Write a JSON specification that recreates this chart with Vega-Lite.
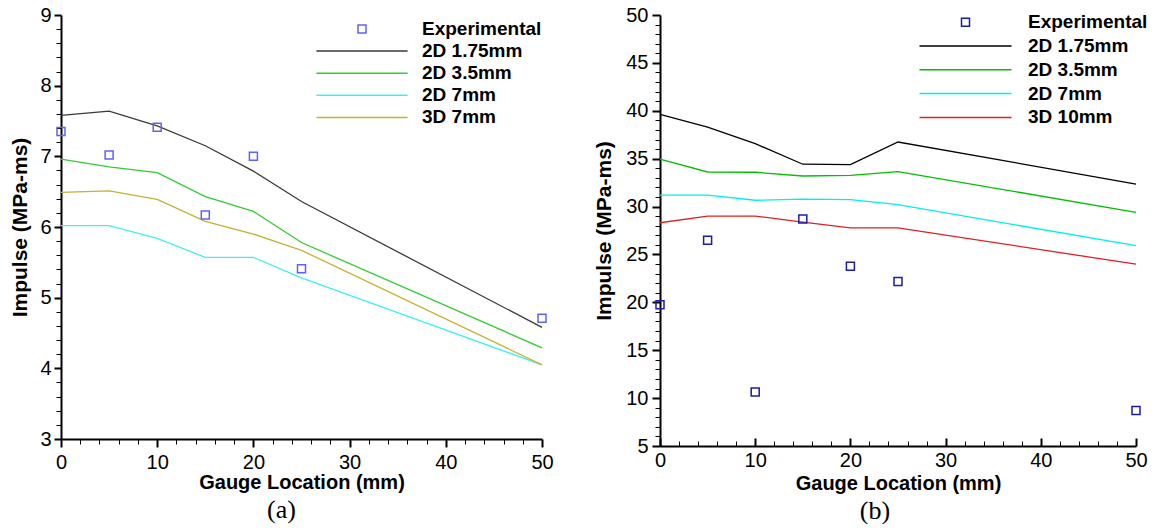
{
  "$schema": "https://vega.github.io/schema/vega-lite/v6.json",
  "padding": {"left": 9, "top": 5, "right": 5, "bottom": 0},
  "spacing": 39,
  "config": {
    "view": {"stroke": null},
    "font": "Liberation Sans",
    "axis": {
      "grid": false,
      "domainColor": "black",
      "domainWidth": 2,
      "tickColor": "black",
      "labelFont": "Liberation Sans",
      "labelFontSize": 20,
      "labelColor": "black",
      "labelOverlap": false,
      "labelFlush": false,
      "titleFont": "Liberation Sans",
      "titleFontSize": 20,
      "titleFontWeight": "bold",
      "titleColor": "black"
    },
    "legend": {
      "orient": "none",
      "symbolSize": 64,
      "symbolStrokeWidth": 1.5,
      "labelFont": "Liberation Sans",
      "labelFontSize": 19,
      "labelFontWeight": "bold",
      "labelColor": "black",
      "labelOffset": 50.5,
      "rowPadding": 2.1,
      "padding": 0
    },
    "title": {"font": "Liberation Serif", "fontSize": 26, "fontWeight": "normal", "color": "black"}
  },
  "hconcat": [
    {
      "width": 481,
      "height": 424,
      "title": {"text": "(a)", "orient": "bottom", "frame": "bounds", "anchor": "middle", "offset": 5},
      "data": {
        "values": [
          {"x": 0, "series": "2D 1.75mm", "v": 7.58},
          {"x": 5, "series": "2D 1.75mm", "v": 7.64},
          {"x": 10, "series": "2D 1.75mm", "v": 7.43},
          {"x": 15, "series": "2D 1.75mm", "v": 7.15},
          {"x": 20, "series": "2D 1.75mm", "v": 6.79},
          {"x": 25, "series": "2D 1.75mm", "v": 6.36},
          {"x": 50, "series": "2D 1.75mm", "v": 4.58},
          {"x": 0, "series": "2D 3.5mm", "v": 6.96},
          {"x": 5, "series": "2D 3.5mm", "v": 6.85},
          {"x": 10, "series": "2D 3.5mm", "v": 6.77},
          {"x": 15, "series": "2D 3.5mm", "v": 6.43},
          {"x": 20, "series": "2D 3.5mm", "v": 6.22},
          {"x": 25, "series": "2D 3.5mm", "v": 5.78},
          {"x": 50, "series": "2D 3.5mm", "v": 4.29},
          {"x": 0, "series": "2D 7mm", "v": 6.02},
          {"x": 5, "series": "2D 7mm", "v": 6.02},
          {"x": 10, "series": "2D 7mm", "v": 5.84},
          {"x": 15, "series": "2D 7mm", "v": 5.57},
          {"x": 20, "series": "2D 7mm", "v": 5.57},
          {"x": 25, "series": "2D 7mm", "v": 5.28},
          {"x": 50, "series": "2D 7mm", "v": 4.05},
          {"x": 0, "series": "3D 7mm", "v": 6.49},
          {"x": 5, "series": "3D 7mm", "v": 6.51},
          {"x": 10, "series": "3D 7mm", "v": 6.39},
          {"x": 15, "series": "3D 7mm", "v": 6.08},
          {"x": 20, "series": "3D 7mm", "v": 5.90},
          {"x": 25, "series": "3D 7mm", "v": 5.67},
          {"x": 50, "series": "3D 7mm", "v": 4.05},
          {"x": 0, "series": "Experimental", "v": 7.35},
          {"x": 5, "series": "Experimental", "v": 7.02},
          {"x": 10, "series": "Experimental", "v": 7.41},
          {"x": 15, "series": "Experimental", "v": 6.17},
          {"x": 20, "series": "Experimental", "v": 7.00},
          {"x": 25, "series": "Experimental", "v": 5.41},
          {"x": 50, "series": "Experimental", "v": 4.71}
        ]
      },
      "encoding": {
        "x": {
          "field": "x", "type": "quantitative",
          "scale": {"domain": [0, 50], "nice": false, "zero": false},
          "axis": {
            "title": "Gauge Location (mm)",
            "values": [0, 2, 4, 6, 8, 10, 12, 14, 16, 18, 20, 22, 24, 26, 28, 30, 32, 34, 36, 38, 40, 42, 44, 46, 48, 50],
            "labelExpr": "datum.value % 10 === 0 ? '' + datum.value : ''",
            "tickSize": {"condition": {"test": "datum.value % 10 === 0", "value": 8}, "value": 5},
            "tickWidth": {"condition": {"test": "datum.value % 10 === 0", "value": 2}, "value": 1},
            "labelPadding": 5,
            "titlePadding": 0
          }
        },
        "y": {
          "field": "v", "type": "quantitative",
          "scale": {"domain": [3, 9], "nice": false, "zero": false},
          "axis": {
            "title": "Impulse (MPa-ms)",
            "titleFontSize": 21,
            "values": [3, 3.2, 3.4, 3.6, 3.8, 4, 4.2, 4.4, 4.6, 4.8, 5, 5.2, 5.4, 5.6, 5.8, 6, 6.2, 6.4, 6.6, 6.8, 7, 7.2, 7.4, 7.6, 7.8, 8, 8.2, 8.4, 8.6, 8.8, 9],
            "labelExpr": "datum.value % 1 === 0 ? '' + datum.value : ''",
            "tickSize": {"condition": {"test": "datum.value % 1 === 0", "value": 7}, "value": 5},
            "tickWidth": {"condition": {"test": "datum.value % 1 === 0", "value": 2}, "value": 1},
            "labelPadding": 3,
            "titlePadding": 9
          }
        },
        "color": {
          "field": "series", "type": "nominal",
          "scale": {
            "domain": ["Experimental", "2D 1.75mm", "2D 3.5mm", "2D 7mm", "3D 7mm"],
            "range": ["#6060ff", "#3a3a3a", "#33cc33", "#40f0f0", "#c8b030"]
          },
          "legend": {
            "title": null,
            "legendX": 291.5,
            "legendY": 4.5,
            "encode": {
              "symbols": {
                "update": {
                  "shape": {"signal": "datum.value === 'Experimental' ? 'square' : 'M-11.4,0H11.4'"},
                  "size": {"value": 64},
                  "fill": {"value": "transparent"}
                }
              }
            }
          }
        }
      },
      "layer": [
        {
          "transform": [{"filter": "datum.series !== 'Experimental'"}],
          "mark": {"type": "line", "strokeWidth": 1.3}
        },
        {
          "transform": [{"filter": "datum.series === 'Experimental'"}],
          "mark": {"type": "point", "shape": "square", "filled": false, "size": 64, "strokeWidth": 1.5, "opacity": 1}
        }
      ]
    },
    {
      "width": 476,
      "height": 431,
      "title": {"text": "(b)", "orient": "bottom", "frame": "bounds", "anchor": "middle", "offset": 5, "dx": 4},
      "data": {
        "values": [
          {"x": 0, "series": "2D 1.75mm", "v": 39.63},
          {"x": 5, "series": "2D 1.75mm", "v": 38.29},
          {"x": 10, "series": "2D 1.75mm", "v": 36.57},
          {"x": 15, "series": "2D 1.75mm", "v": 34.42},
          {"x": 20, "series": "2D 1.75mm", "v": 34.38},
          {"x": 25, "series": "2D 1.75mm", "v": 36.74},
          {"x": 50, "series": "2D 1.75mm", "v": 32.35},
          {"x": 0, "series": "2D 3.5mm", "v": 34.95},
          {"x": 5, "series": "2D 3.5mm", "v": 33.61},
          {"x": 10, "series": "2D 3.5mm", "v": 33.58},
          {"x": 15, "series": "2D 3.5mm", "v": 33.19},
          {"x": 20, "series": "2D 3.5mm", "v": 33.26},
          {"x": 25, "series": "2D 3.5mm", "v": 33.65},
          {"x": 50, "series": "2D 3.5mm", "v": 29.40},
          {"x": 0, "series": "2D 7mm", "v": 31.19},
          {"x": 5, "series": "2D 7mm", "v": 31.19},
          {"x": 10, "series": "2D 7mm", "v": 30.66},
          {"x": 15, "series": "2D 7mm", "v": 30.77},
          {"x": 20, "series": "2D 7mm", "v": 30.73},
          {"x": 25, "series": "2D 7mm", "v": 30.20},
          {"x": 50, "series": "2D 7mm", "v": 25.91},
          {"x": 0, "series": "3D 10mm", "v": 28.31},
          {"x": 5, "series": "3D 10mm", "v": 29.01},
          {"x": 10, "series": "3D 10mm", "v": 29.01},
          {"x": 15, "series": "3D 10mm", "v": 28.38},
          {"x": 20, "series": "3D 10mm", "v": 27.78},
          {"x": 25, "series": "3D 10mm", "v": 27.78},
          {"x": 50, "series": "3D 10mm", "v": 23.98},
          {"x": 0, "series": "Experimental", "v": 19.75},
          {"x": 5, "series": "Experimental", "v": 26.48},
          {"x": 10, "series": "Experimental", "v": 10.65},
          {"x": 15, "series": "Experimental", "v": 28.69},
          {"x": 20, "series": "Experimental", "v": 23.77},
          {"x": 25, "series": "Experimental", "v": 22.17},
          {"x": 50, "series": "Experimental", "v": 8.7}
        ]
      },
      "encoding": {
        "x": {
          "field": "x", "type": "quantitative",
          "scale": {"domain": [0, 50], "nice": false, "zero": false},
          "axis": {
            "title": "Gauge Location (mm)",
            "values": [0, 2, 4, 6, 8, 10, 12, 14, 16, 18, 20, 22, 24, 26, 28, 30, 32, 34, 36, 38, 40, 42, 44, 46, 48, 50],
            "labelExpr": "datum.value % 10 === 0 ? '' + datum.value : ''",
            "tickSize": {"condition": {"test": "datum.value % 10 === 0", "value": -8}, "value": -5},
            "tickWidth": {"condition": {"test": "datum.value % 10 === 0", "value": 2}, "value": 1},
            "labelPadding": 12,
            "titlePadding": 0
          }
        },
        "y": {
          "field": "v", "type": "quantitative",
          "scale": {"domain": [5, 50], "nice": false, "zero": false},
          "axis": {
            "title": "Impulse (MPa-ms)",
            "titleFontSize": 21,
            "values": [5, 6, 7, 8, 9, 10, 11, 12, 13, 14, 15, 16, 17, 18, 19, 20, 21, 22, 23, 24, 25, 26, 27, 28, 29, 30, 31, 32, 33, 34, 35, 36, 37, 38, 39, 40, 41, 42, 43, 44, 45, 46, 47, 48, 49, 50],
            "labelExpr": "datum.value % 5 === 0 ? '' + datum.value : ''",
            "tickSize": {"condition": {"test": "datum.value % 5 === 0", "value": 8}, "value": 5},
            "tickWidth": {"condition": {"test": "datum.value % 5 === 0", "value": 2}, "value": 1},
            "labelPadding": 4,
            "titlePadding": 11
          }
        },
        "color": {
          "field": "series", "type": "nominal",
          "scale": {
            "domain": ["Experimental", "2D 1.75mm", "2D 3.5mm", "2D 7mm", "3D 10mm"],
            "range": ["#1c1ca8", "#000000", "#00c000", "#00eef0", "#e02020"]
          },
          "legend": {
            "title": null,
            "legendX": 296,
            "legendY": -2.3,
            "rowPadding": 3.8,
            "labelOffset": 53,
            "encode": {
              "symbols": {
                "update": {
                  "shape": {"signal": "datum.value === 'Experimental' ? 'square' : 'M-11.5,0H11.5'"},
                  "size": {"value": 64},
                  "fill": {"value": "transparent"}
                }
              }
            }
          }
        }
      },
      "layer": [
        {
          "transform": [{"filter": "datum.series !== 'Experimental'"}],
          "mark": {"type": "line", "strokeWidth": 1.3}
        },
        {
          "transform": [{"filter": "datum.series === 'Experimental'"}],
          "mark": {"type": "point", "shape": "square", "filled": false, "size": 64, "strokeWidth": 1.5, "opacity": 1}
        }
      ]
    }
  ],
  "resolve": {"scale": {"color": "independent"}, "legend": {"color": "independent"}}
}
